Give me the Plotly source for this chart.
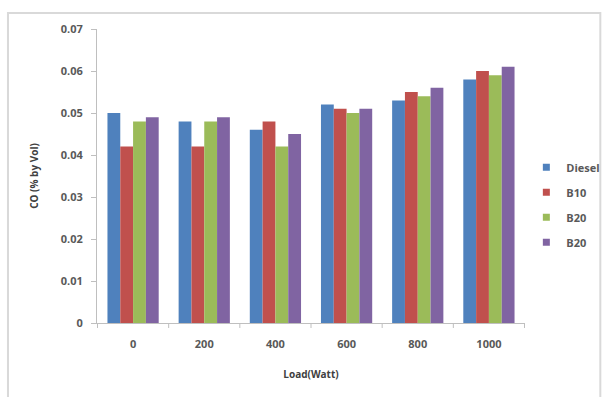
import plotly.graph_objects as go

categories = ["0", "200", "400", "600", "800", "1000"]
diesel = [0.050, 0.048, 0.046, 0.052, 0.053, 0.058]
b10 = [0.042, 0.042, 0.048, 0.051, 0.055, 0.060]
b20a = [0.048, 0.048, 0.042, 0.050, 0.054, 0.059]
b20b = [0.049, 0.049, 0.045, 0.051, 0.056, 0.061]
series_names = ["Diesel", "B10", "B20", "B20"]
colors = ["#4F81BD", "#C0504D", "#9BBB59", "#8064A2"]
y_ticks = [0, 0.01, 0.02, 0.03, 0.04, 0.05, 0.06, 0.07]
y_ticktext = ["0", "0.01", "0.02", "0.03", "0.04", "0.05", "0.06", "0.07"]

fig = go.Figure()
for i, (name, vals, col) in enumerate(zip(series_names, [diesel, b10, b20a, b20b], colors)):
    fig.add_trace(go.Bar(x=categories, y=vals, name=name, marker_color=col,
                         marker_line_width=0, showlegend=False))
    # legend entry with small square key
    fig.add_trace(go.Scatter(x=[None], y=[None], mode="markers", name=name,
                             marker=dict(symbol="square", size=7, color=col),
                             legendgroup="g%d" % i, showlegend=True))

font_fam = "Open Sans, Liberation Sans, sans-serif"
fig.update_layout(
    width=605, height=397,
    margin=dict(l=97, r=80, t=29, b=74, autoexpand=False),
    paper_bgcolor="white", plot_bgcolor="white",
    barmode="group", bargap=0.28, bargroupgap=0,
    font=dict(family=font_fam, color="#595959", size=11),
    showlegend=True,
    legend=dict(xref="container", yref="container", x=0.87, y=0.484,
                xanchor="left", yanchor="middle",
                font=dict(size=11, color="#595959", weight="bold"),
                traceorder="grouped", tracegroupgap=6,
                itemwidth=30, bgcolor="rgba(0,0,0,0)"),
    xaxis=dict(showline=True, linecolor="#BFBFBF", linewidth=1,
               ticks="", showgrid=False, ticklabelstandoff=11,
               tickfont=dict(size=11, color="#595959", family=font_fam, weight="bold"),
               title=dict(text="<b>Load(Watt)</b>", font=dict(size=10, color="#404040"), standoff=20)),
    yaxis=dict(range=[0, 0.07], tickvals=y_ticks, ticktext=y_ticktext,
               showline=True, linecolor="#BFBFBF", linewidth=1,
               ticks="outside", ticklen=5, tickcolor="#BFBFBF",
               showgrid=False, zeroline=False, ticklabelstandoff=6,
               tickfont=dict(size=11, color="#595959", family=font_fam, weight="bold"),
               title=dict(text="<b>CO (% by Vol)</b>", font=dict(size=10, color="#404040"), standoff=20)),
)
# category separator ticks on x axis
for k in range(len(categories) + 1):
    fig.add_shape(type="line", xref="x", yref="paper", x0=k - 0.5, x1=k - 0.5,
                  y0=0, y1=-0.017, line=dict(color="#BFBFBF", width=1))
# outer chart frame
fig.add_shape(type="rect", xref="paper", yref="paper", x0=-0.208, x1=1.176,
              y0=-0.4, y1=1.054, line=dict(color="#D9D9D9", width=2), layer="below")

fig.write_html("out.html")
